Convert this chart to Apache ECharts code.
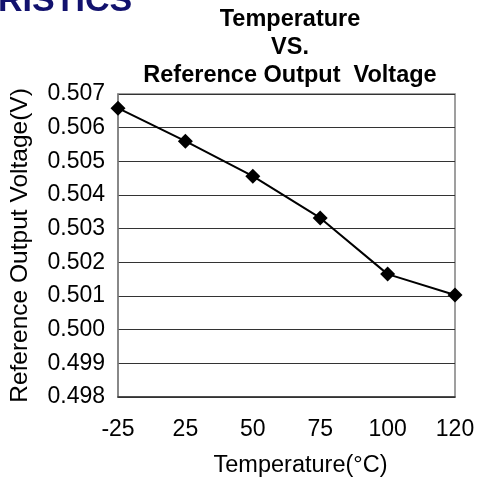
<!DOCTYPE html>
<html>
<head>
<meta charset="utf-8">
<script src="https://cdn.jsdelivr.net/npm/echarts@6/dist/echarts.min.js"></script>
<style>
  html, body { margin: 0; padding: 0; background: #fff; }
  #chart { width: 486px; height: 483px; }
</style>
</head>
<body>
<div id="chart"></div>
<script>
// 温度 vs 基准输出电压
var temps = ['-25', '25', '50', '75', '100', '120'];
var voltages = [0.50658, 0.50560, 0.50456, 0.50332, 0.50165, 0.50103];
var yMin = 0.498, yMax = 0.507, yStep = 0.001;

var font = 'Liberation Sans, Arial, sans-serif';
var myChart = echarts.init(document.getElementById('chart'));
var option = {
	animation: false,
	backgroundColor: '#fff',
	title: {
		text: 'Temperature\nVS.\nReference Output  Voltage',
		left: 285,
		top: 1,
		textAlign: 'center',
		textStyle: {
			fontFamily: font,
			fontSize: 23.5,
			fontWeight: 'bold',
			color: '#000',
			lineHeight: 28
		}
	},
	graphic: [{
		type: 'text',
		left: -2,
		top: -15,
		style: {
			text: 'RISTICS',
			font: 'bold 34px ' + font,
			fill: '#12126e'
		}
	}],
	grid: {
		left: 117,
		right: 31,
		top: 94,
		bottom: 86,
		show: true,
		borderColor: '#808080',
		borderWidth: 1.5
	},
	xAxis: {
		type: 'category',
		data: temps,
		boundaryGap: false,
		name: 'Temperature(°C)',
		nameLocation: 'middle',
		nameGap: 57,
		nameTextStyle: {
			fontFamily: font,
			fontSize: 23.5,
			color: '#000',
			padding: [0, 0, 0, 28]
		},
		axisLine: { show: true, lineStyle: { color: '#333', width: 1.5 } },
		axisTick: { show: false },
		axisLabel: {
			fontFamily: font,
			fontSize: 23,
			color: '#000',
			margin: 21
		},
		splitLine: { show: false }
	},
	yAxis: {
		type: 'value',
		min: yMin,
		max: yMax,
		interval: yStep,
		name: 'Reference Output Voltage(V)',
		nameLocation: 'middle',
		nameGap: 85,
		nameTextStyle: {
			fontFamily: font,
			fontSize: 24.5,
			color: '#000'
		},
		axisLine: { show: true, lineStyle: { color: '#808080', width: 1.5 } },
		axisTick: { show: false },
		axisLabel: {
			fontFamily: font,
			fontSize: 23,
			color: '#000',
			margin: 13,
			formatter: function(v){
				return v.toFixed(3);
			}
		},
		splitLine: { show: true, lineStyle: { color: '#333', width: 1.2 } }
	},
	series: [{
		type: 'line',
		data: voltages,
		symbol: 'diamond',
		symbolSize: 15,
		itemStyle: { color: '#000' },
		lineStyle: { color: '#000', width: 2 }
	}]
};
myChart.setOption(option);
</script>
</body>
</html>
